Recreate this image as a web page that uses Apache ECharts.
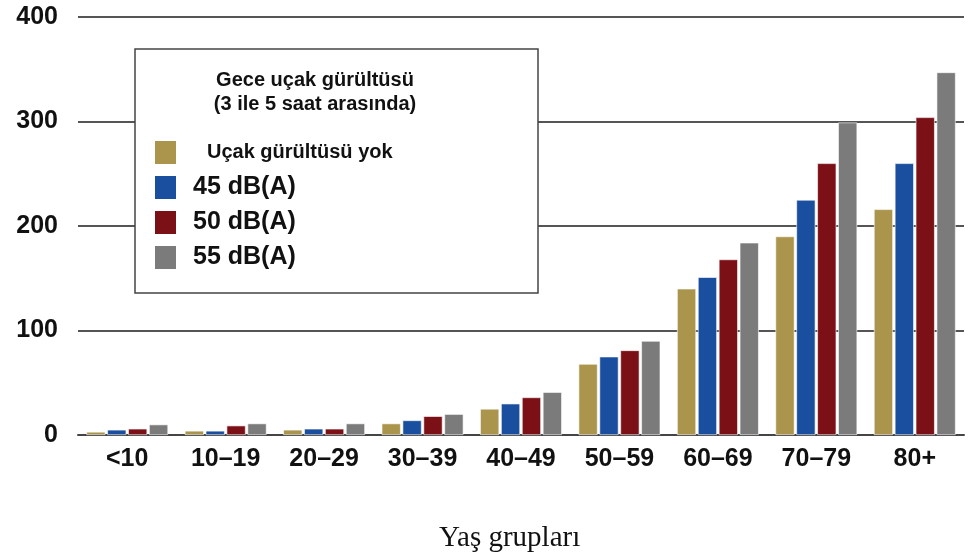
<!DOCTYPE html>
<html>
<head>
<meta charset="utf-8">
<script src="https://cdn.jsdelivr.net/npm/echarts@6/dist/echarts.min.js"></script>
<style>
  html, body { margin: 0; padding: 0; background: #fff; }
  #chart { width: 974px; height: 559px; }
</style>
</head>
<body>
<div id="chart"></div>
<script>
const categories = ['<10', '10–19', '20–29', '30–39', '40–49', '50–59', '60–69', '70–79', '80+']
const yTicks = [0, 100, 200, 300, 400]

const noNoise = [3, 4, 5, 11, 25, 68, 140, 190, 216]
const db45 = [5, 4, 6, 14, 30, 75, 151, 225, 260]
const db50 = [6, 9, 6, 18, 36, 81, 168, 260, 304]
const db55 = [10, 11, 11, 20, 41, 90, 184, 299, 347]

const seriesNames = ['Uçak gürültüsü yok', '45 dB(A)', '50 dB(A)', '55 dB(A)']
const colors = ['#ab954c', '#1a4f9f', '#7b1116', '#7b7b7b']

const chart = echarts.init(document.getElementById('chart'))

const bar = (name, data, color) => ({
  name,
  type: 'bar',
  data,
  barGap: '10%',
  barCategoryGap: '17%',
  itemStyle: { color, borderColor: '#fff', borderWidth: 0.6 },
})

chart.setOption({
  animation: false,
  textStyle: { fontFamily: 'Arial, "Liberation Sans", sans-serif' },
  title: {
    text: 'Gece uçak gürültüsü\n(3 ile 5 saat arasında)',
    left: 310,
    top: 63,
    textAlign: 'center',
    textStyle: { fontSize: 20, fontWeight: 'bold', color: '#111', lineHeight: 24 },
  },
  graphic: [
    {
      type: 'rect',
      z: 3,
      shape: { x: 135, y: 49, width: 403, height: 244 },
      style: { fill: '#fff', stroke: '#444', lineWidth: 1.5 },
    },
    {
      type: 'text',
      z: 5,
      left: 439,
      top: 524,
      style: {
        text: 'Yaş grupları',
        font: '29px "Liberation Serif", "Times New Roman", serif',
        fill: '#111',
      },
    },
  ],
  legend: {
    orient: 'vertical',
    left: 153,
    top: 139,
    padding: 0,
    itemWidth: 23,
    itemHeight: 25,
    itemGap: 8,
    icon: 'rect',
    data: seriesNames.map((n, i) => ({
      name: n,
      textStyle: i === 0
        ? { fontSize: 20, fontWeight: 'bold', color: '#111', padding: [0, 0, 0, 25] }
        : { fontSize: 25, fontWeight: 'bold', color: '#111', padding: [0, 0, 0, 11] },
    })),
  },
  grid: { left: 78, right: 10, top: 17, bottom: 124 },
  xAxis: {
    type: 'category',
    data: categories,
    axisTick: { show: false },
    axisLine: { lineStyle: { color: '#444', width: 2 } },
    axisLabel: { color: '#111', fontSize: 25, fontWeight: 'bold', margin: 12, interval: 0 },
  },
  yAxis: {
    type: 'value',
    min: yTicks[0],
    max: yTicks[yTicks.length - 1],
    interval: 100,
    axisLine: { show: false },
    axisTick: { show: false },
    splitLine: { lineStyle: { color: '#555', width: 2 } },
    axisLabel: { color: '#111', fontSize: 25, fontWeight: 'bold', margin: 20 },
  },
  series: [
    bar(seriesNames[0], noNoise, colors[0]),
    bar(seriesNames[1], db45, colors[1]),
    bar(seriesNames[2], db50, colors[2]),
    bar(seriesNames[3], db55, colors[3]),
  ],
})
</script>
</body>
</html>
